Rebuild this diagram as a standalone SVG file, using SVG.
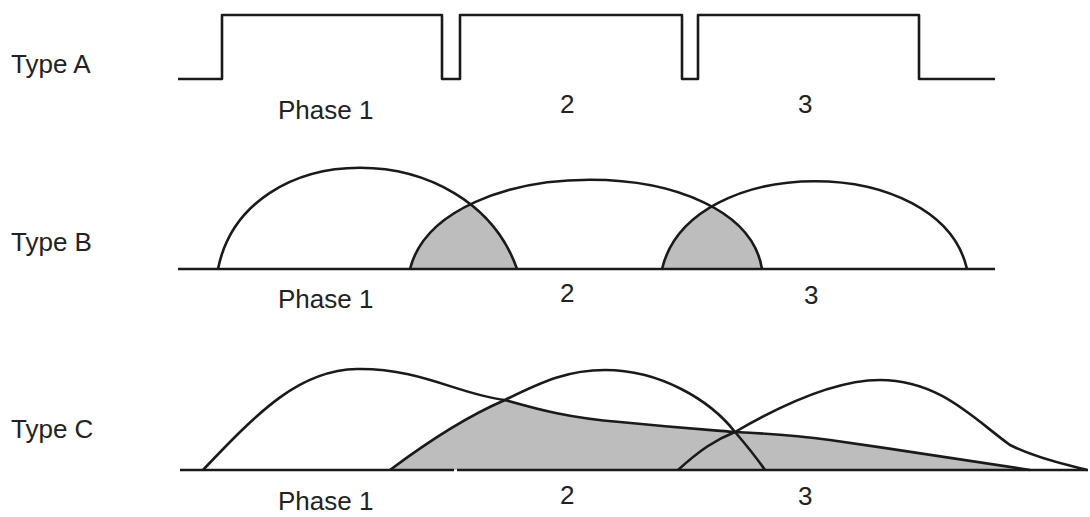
<svg xmlns="http://www.w3.org/2000/svg" width="1090" height="517" viewBox="0 0 1090 517">
<style>
.t{font-family:"Liberation Sans",Arial,sans-serif;font-size:26px;fill:#222}
.ln{fill:none;stroke:#1a1a1a;stroke-width:2.6;stroke-linejoin:round}
.sh{fill:#bdbdbd;stroke:none}
</style>
<defs>
<clipPath id="cB2"><path d="M410,269 C440,150 743,150 762,269 Z"/></clipPath>
<clipPath id="cB3"><path d="M662,269 C690,152 940,152 967,269 Z"/></clipPath>
<clipPath id="cC23">
<path d="M390,470 C430,440 470,415 505,400 C545,380 570,370 605,370 C660,370 710,400 735,432 C748,447 758,460 765,470 Z"/>
<path d="M678,470 C700,450 715,440 735,432 C790,400 840,380 880,380 C940,380 975,420 1010,445 C1040,460 1070,465 1087,470 Z"/>
</clipPath>
</defs>
<rect width="1090" height="517" fill="#fff"/>
<g id="typeA">
<text class="t" x="11" y="73">Type A</text>
<path class="ln" d="M178,79 H222 V15 H442 V79 H460 V15 H682 V79 H698 V15 H919 V79 H995"/>
<text class="t" x="278" y="119">Phase 1</text>
<text class="t" x="560" y="113">2</text>
<text class="t" x="798" y="113">3</text>
</g>
<g id="typeB">
<text class="t" x="11" y="251">Type B</text>
<path class="sh" clip-path="url(#cB2)" d="M218,269 C245,134 470,134 517,269 Z"/>
<path class="sh" clip-path="url(#cB3)" d="M410,269 C440,150 743,150 762,269 Z"/>
<path class="ln" d="M178,269 H995"/>
<path class="ln" d="M218,269 C245,134 470,134 517,269"/>
<path class="ln" d="M410,269 C440,150 743,150 762,269"/>
<path class="ln" d="M662,269 C690,152 940,152 967,269"/>
<text class="t" x="278" y="308">Phase 1</text>
<text class="t" x="560" y="302">2</text>
<text class="t" x="804" y="304">3</text>
</g>
<g id="typeC">
<text class="t" x="11" y="438">Type C</text>
<path class="sh" clip-path="url(#cC23)" d="M203,470 C260,410 300,370 357,369 C420,368 460,395 505,400 C540,410 570,418 620,422 C680,428 710,430 735,432 C780,434 800,436 830,440 C900,450 980,462 1030,470 Z"/>
<path class="ln" d="M180,470 H454 M457,470 H1088"/>
<path class="ln" d="M203,470 C260,410 300,370 357,369 C420,368 460,395 505,400 C540,410 570,418 620,422 C680,428 710,430 735,432 C780,434 800,436 830,440 C900,450 980,462 1030,470"/>
<path class="ln" d="M390,470 C430,440 470,415 505,400 C545,380 570,370 605,370 C660,370 710,400 735,432 C748,447 758,460 765,470"/>
<path class="ln" d="M678,470 C700,450 715,440 735,432 C790,400 840,380 880,380 C940,380 975,420 1010,445 C1040,460 1070,465 1087,470"/>
<text class="t" x="278" y="510">Phase 1</text>
<text class="t" x="560" y="504">2</text>
<text class="t" x="798" y="505">3</text>
</g>
</svg>
